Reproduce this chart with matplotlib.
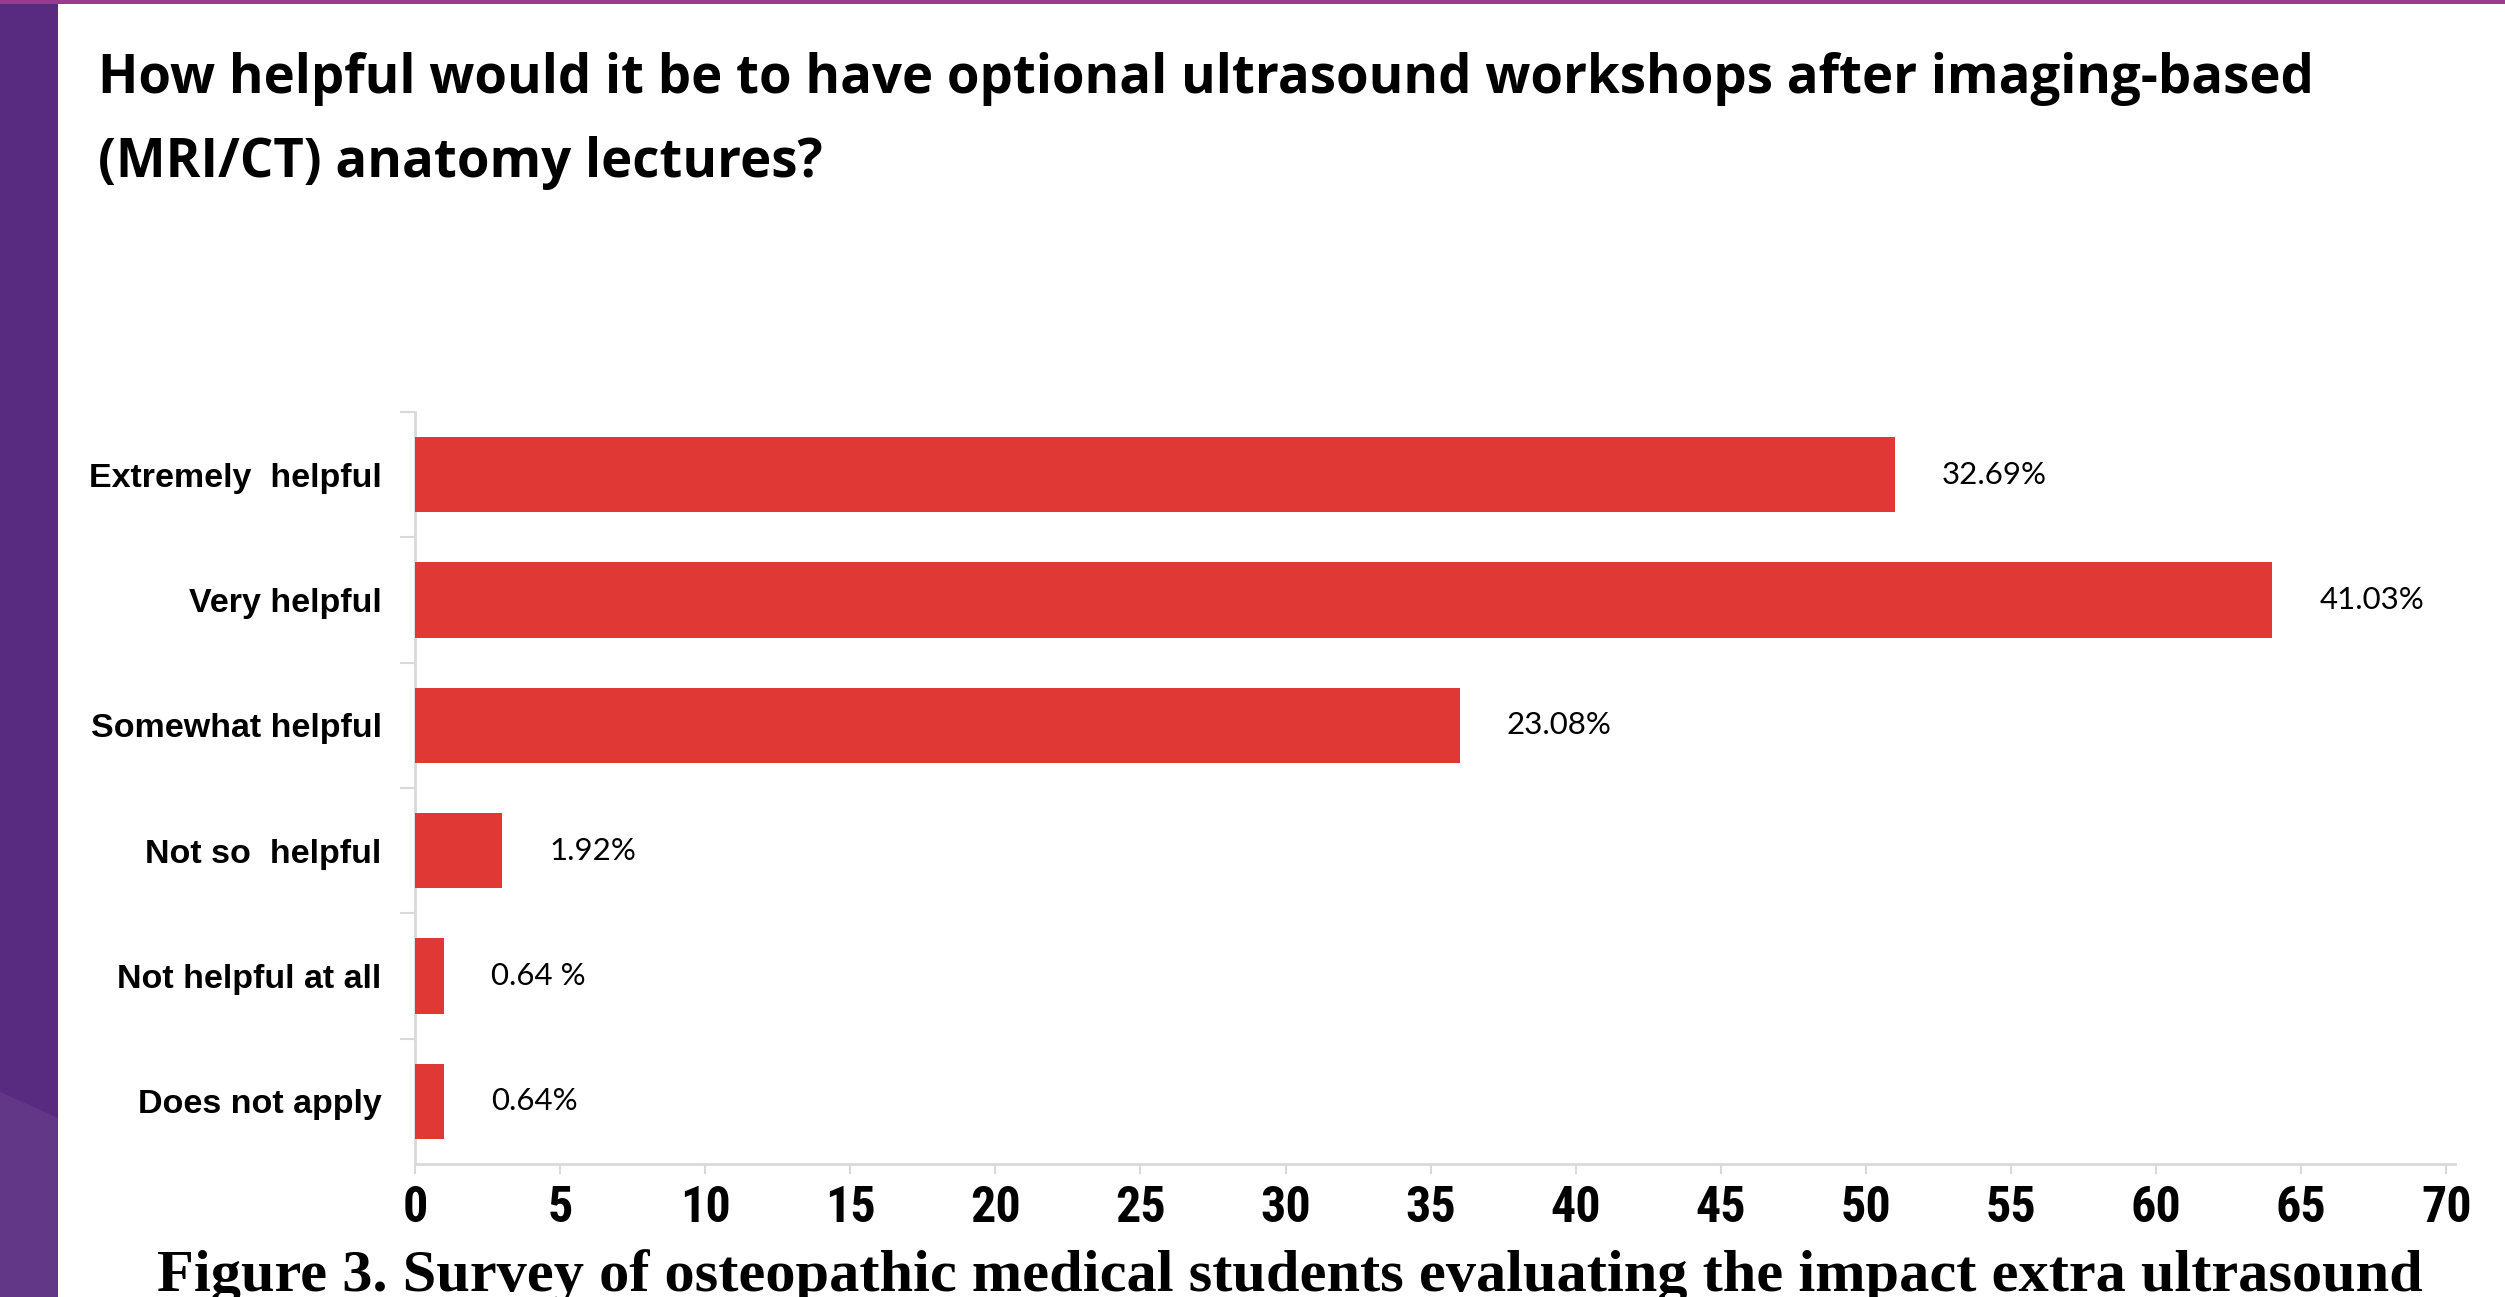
import matplotlib
matplotlib.use("Agg")
import matplotlib.pyplot as plt
from matplotlib import font_manager as fm
from matplotlib.patches import Polygon, Rectangle
from matplotlib.ticker import FixedLocator

# survey answers, top to bottom as in the figure
categories = [
    "Extremely  helpful",
    "Very helpful",
    "Somewhat helpful",
    "Not so  helpful",
    "Not helpful at all",
    "Does not apply",
]
counts = [51, 64, 36, 3, 1, 1]
pct_labels = ["32.69%", "41.03%", "23.08%", "1.92%", "0.64 %", "0.64%"]

title_lines = [
    "How helpful would it be to have optional ultrasound workshops after imaging-based",
    "(MRI/CT) anatomy lectures?",
]
caption = ("Figure 3. Survey of osteopathic medical students evaluating "
           "the impact extra ultrasound")

W, H = 2505, 1297
BAR_RED = "#E03834"
AXIS_GREY = "#d9d9d9"


def narrow_bold_font():
    # the x tick digits are a narrow bold face; use one only if it's really narrow
    for fam in ("Liberation Sans Narrow", "Roboto Condensed", "Open Sans Condensed"):
        try:
            fp = fm.FontProperties(family=fam, weight="bold")
            path = fm.findfont(fp, fallback_to_default=False)
        except ValueError:
            continue
        if "Narrow" in path or "Condensed" in path:
            return fm.FontProperties(fname=path), True
    return fm.FontProperties(family="Liberation Sans", weight="bold"), False


fig = plt.figure(figsize=(W / 100, H / 100), dpi=100)
fig.patch.set_facecolor("white")

# slide decoration: purple side stripe and thin top rule
fig.patches.append(Rectangle((0, 0), 58 / W, 1, transform=fig.transFigure,
                             facecolor="#582B80", edgecolor="none", zorder=0))
fig.patches.append(Polygon([(0, 0), (58 / W, 0), (58 / W, 1 - 1118 / H), (0, 1 - 1092 / H)],
                           closed=True, transform=fig.transFigure,
                           facecolor="#633788", edgecolor="none", zorder=1))
fig.patches.append(Rectangle((0, 1 - 4 / H), 1, 4 / H, transform=fig.transFigure,
                             facecolor="#9A3A8E", edgecolor="none", zorder=2))

# title, two lines as on the slide
fig.text(98 / W, 1 - 93 / H, title_lines[0], fontsize=38, fontweight="bold",
         family="Open Sans", va="baseline", ha="left")
fig.text(98 / W, 1 - 177 / H, title_lines[1], fontsize=38, fontweight="bold",
         family="Open Sans", va="baseline", ha="left")

ax = fig.add_axes([415 / W, 1 - 1164 / H, 2040 / W, 752 / H])
ypos = list(range(len(categories)))
ax.barh(ypos, counts, height=0.6, color=BAR_RED, zorder=3)

for y, v, lbl in zip(ypos, counts, pct_labels):
    ax.annotate(lbl, (v, y), xytext=(34, 0), textcoords="offset points",
                ha="left", va="center", fontsize=22.5, family="Lato")

ax.set_xlim(0, 70.3)
ax.set_ylim(len(categories) - 0.5, -0.5)

ax.xaxis.set_major_locator(FixedLocator(list(range(0, 71, 5))))
xfont, is_narrow = narrow_bold_font()
xfont.set_size(36 if is_narrow else 33)
ax.tick_params(axis="x", length=7, width=1.5, color=AXIS_GREY, pad=8)
for t in ax.get_xticklabels():
    t.set_fontproperties(xfont)

ax.set_yticks(ypos)
ax.set_yticklabels(categories)
ax.tick_params(axis="y", which="major", length=0, pad=24, labelsize=24.5)
for t in ax.get_yticklabels():
    t.set_family("Liberation Sans")
    t.set_fontweight("bold")
ax.yaxis.set_minor_locator(FixedLocator([b - 0.5 for b in ypos]))
ax.tick_params(axis="y", which="minor", length=11, width=1.5, color=AXIS_GREY)

for side in ("top", "right"):
    ax.spines[side].set_visible(False)
for side in ("left", "bottom"):
    ax.spines[side].set_color(AXIS_GREY)
    ax.spines[side].set_linewidth(2)

# caption, cut off by the bottom edge in the original
fig.text(157 / W, 1 - 1291 / H, caption, fontsize=43.5, fontweight="bold",
         family="Liberation Serif", va="baseline", ha="left")

fig.savefig("out.png", dpi=100, facecolor="white")
